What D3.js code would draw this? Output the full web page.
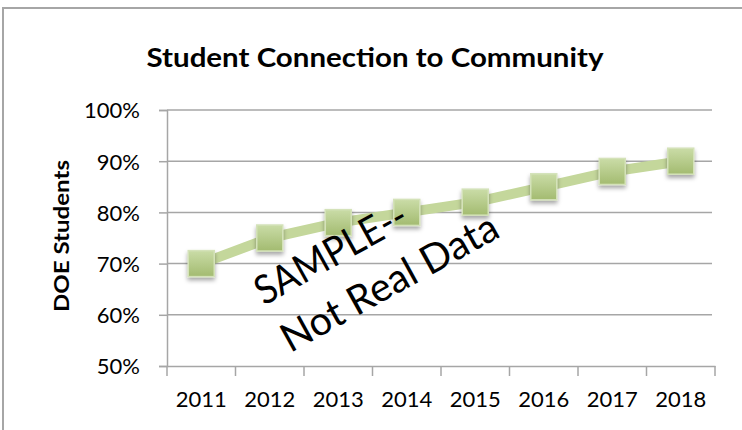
<html>
  <head>
    <title>Student Connection to Community</title>
    <style>
      html, body {
        margin: 0;
        padding: 0;
        background: #fff;
      }
      text {
        font-family: Lato, "Open Sans", sans-serif;
        fill: #000;
      }
    </style>
  </head>
  <body>

<svg id="viz"></svg>

<script src="https://d3js.org/d3.v7.min.js"></script>
<script>
// data
var years = ["2011", "2012", "2013", "2014", "2015", "2016", "2017", "2018"];
var values = [0.70, 0.75, 0.78, 0.80, 0.82, 0.85, 0.88, 0.90];
var yTicks = [0.5, 0.6, 0.7, 0.8, 0.9, 1.0];

var width = 742;
var height = 430;

// plot area (don't call it "top", window.top is read-only)
var plotLeft = 167, plotRight = 715, plotTop = 110, plotBottom = 366;

var svg = d3.select("#viz").attr("width", width).attr("height", height);

var x = d3.scaleBand().domain(years).range([plotLeft, plotRight]);
var y = d3.scaleLinear().domain([0.5, 1.0]).range([plotBottom, plotTop]);

var defs = svg.append("defs");

var grad = defs.append("linearGradient")
    .attr("id", "markerFill")
    .attr("x1", 0).attr("y1", 0).attr("x2", 0).attr("y2", 1);
grad.append("stop").attr("offset", "0%").attr("stop-color", "#cadca7");
grad.append("stop").attr("offset", "100%").attr("stop-color", "#a3bb70");

var shadow = defs.append("filter")
    .attr("id", "shadow")
    .attr("x", "-30%").attr("y", "-30%")
    .attr("width", "160%").attr("height", "170%");
shadow.append("feDropShadow")
    .attr("dx", 0).attr("dy", 3)
    .attr("stdDeviation", 2)
    .attr("flood-color", "#000")
    .attr("flood-opacity", 0.35);

// outer frame of the chart (cropped)
svg.append("path")
    .attr("d", "M3," + height + "V8H" + width)
    .attr("fill", "none")
    .attr("stroke", "#a6a6a6")
    .attr("stroke-width", 2);

// title
svg.append("text")
    .attr("x", 375)
    .attr("y", 67)
    .attr("text-anchor", "middle")
    .attr("font-size", 26)
    .attr("font-weight", "bold")
    .attr("textLength", 457)
    .attr("lengthAdjust", "spacingAndGlyphs")
    .text("Student Connection to Community");

// gridlines
svg.append("g")
    .selectAll("line")
    .data(yTicks.slice(1))
    .enter()
    .append("line")
    .attr("x1", plotLeft)
    .attr("x2", 712)
    .attr("y1", function(d) { return y(d); })
    .attr("y2", function(d) { return y(d); })
    .attr("stroke", "#a6a6a6")
    .attr("stroke-width", 1.5);

// y axis
var yAxis = svg.append("g")
    .attr("transform", "translate(" + plotLeft + ",0)")
    .call(d3.axisLeft(y).tickValues(yTicks).tickFormat(d3.format(".0%")).tickSize(8).tickPadding(19));

// x axis
var xAxis = svg.append("g")
    .attr("transform", "translate(0," + plotBottom + ")")
    .call(d3.axisBottom(x).tickSize(0).tickPadding(25));

// x ticks sit on the band edges
xAxis.append("g")
    .selectAll("line")
    .data(years.concat(["end"]))
    .enter()
    .append("line")
    .attr("x1", function(d, i) { return plotLeft + i * x.step(); })
    .attr("x2", function(d, i) { return plotLeft + i * x.step(); })
    .attr("y1", 0)
    .attr("y2", 10)
    .attr("stroke", "#a6a6a6")
    .attr("stroke-width", 1.5);

[yAxis, xAxis].forEach(function(ax) {
    ax.select(".domain").attr("stroke", "#a6a6a6").attr("stroke-width", 1.5);
    ax.selectAll(".tick line").attr("stroke", "#a6a6a6").attr("stroke-width", 1.5);
    ax.selectAll(".tick text")
        .attr("font-family", "Lato, sans-serif")
        .attr("font-size", 22)
        .attr("fill", "#000");
});
yAxis.selectAll(".tick text").attr("dy", "0.36em");

// y axis title
svg.append("text")
    .attr("transform", "translate(69,236) rotate(-90)")
    .attr("text-anchor", "middle")
    .attr("font-size", 20)
    .attr("font-weight", "bold")
    .attr("textLength", 152)
    .attr("lengthAdjust", "spacingAndGlyphs")
    .text("DOE Students");

// series line
var line = d3.line()
    .x(function(d, i) { return x(years[i]) + x.bandwidth() / 2; })
    .y(function(d) { return y(d); });

svg.append("path")
    .datum(values)
    .attr("d", line)
    .attr("fill", "none")
    .attr("stroke", "#c4d79b")
    .attr("stroke-width", 10)
    .attr("stroke-linejoin", "round");

// square markers
var size = 26;
svg.append("g")
    .selectAll("rect")
    .data(values)
    .enter()
    .append("rect")
    .attr("x", function(d, i) { return x(years[i]) + x.bandwidth() / 2 - size / 2; })
    .attr("y", function(d) { return y(d) - size / 2; })
    .attr("width", size)
    .attr("height", size)
    .attr("fill", "url(#markerFill)")
    .attr("stroke", "#d4e2b9")
    .attr("stroke-width", 1.5)
    .attr("filter", "url(#shadow)");

// watermark
var wm = svg.append("g")
    .attr("transform", "translate(264,306) rotate(-29)");
wm.append("text")
    .attr("x", 0).attr("y", 0)
    .attr("font-size", 40)
    .attr("textLength", 168)
    .attr("lengthAdjust", "spacingAndGlyphs")
    .text("SAMPLE--");
wm.append("text")
    .attr("x", 0).attr("y", 54)
    .attr("font-size", 40)
    .attr("textLength", 242)
    .attr("lengthAdjust", "spacingAndGlyphs")
    .text("Not Real Data");
</script>

  </body>
</html>
